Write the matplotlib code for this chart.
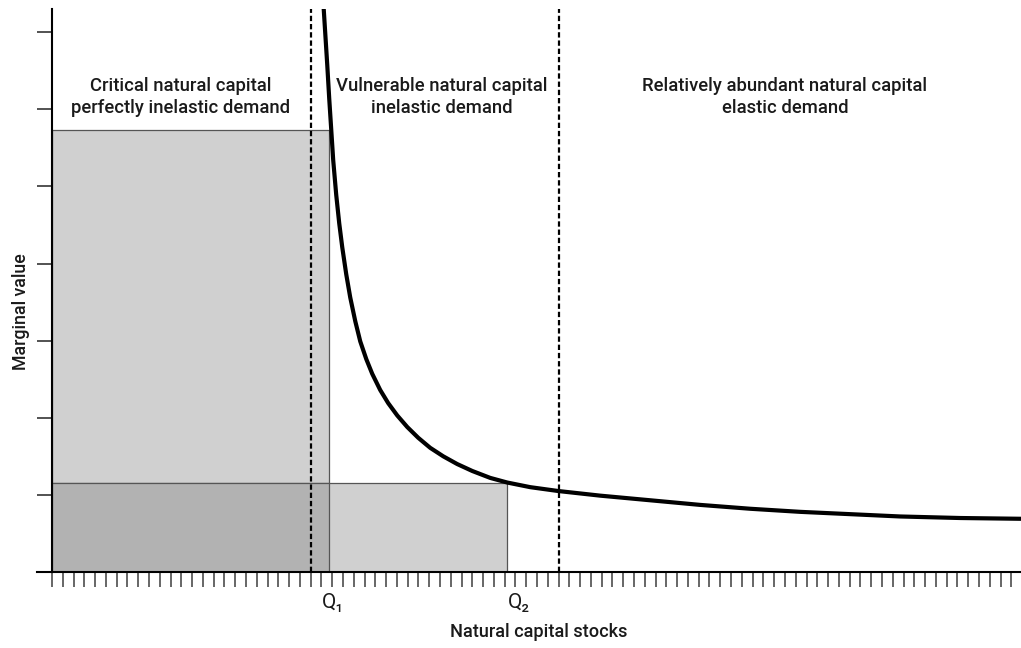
import numpy as np
import matplotlib.pyplot as plt
from matplotlib.patches import Rectangle

plt.rcParams['font.family'] = ['Roboto', 'DejaVu Sans']

# demand curve (x in stock ticks, y in value ticks)
curve_x = [25.21, 25.35, 25.54, 25.72, 25.91, 26.09, 26.37, 26.65, 26.93, 27.30,
           27.67, 28.14, 28.60, 29.16, 29.71, 30.45, 31.19, 32.03, 32.96, 33.98,
           35.09, 36.30, 37.59, 38.99, 40.66, 42.24, 44.37, 46.97, 50.86, 55.50,
           60.14, 64.78, 69.41, 74.05, 78.69, 84.26, 89.92]
curve_y = [7.30, 6.99, 6.57, 6.14, 5.73, 5.34, 4.89, 4.52, 4.21, 3.86,
           3.56, 3.25, 2.99, 2.76, 2.57, 2.36, 2.19, 2.03, 1.88, 1.74,
           1.61, 1.50, 1.40, 1.31, 1.22, 1.16, 1.10, 1.05, 0.99, 0.93,
           0.87, 0.82, 0.78, 0.75, 0.72, 0.70, 0.69]

q1, q2 = 25.7, 42.2          # stock levels
v1, v2 = 5.73, 1.16          # marginal values at Q1 and Q2
thresholds = [24, 47]        # dashed boundaries between regions

regions = ["Critical natural capital\nperfectly inelastic demand",
           "Vulnerable natural capital\ninelastic demand",
           "Relatively abundant natural capital\nelastic demand"]
region_x = [11.97, 36.2, 68.0]
region_y = 6.16

light = '#d0d0d0'
dark = '#b2b2b2'
edge = '#555555'
ink = '#1a1a1a'

fig = plt.figure(figsize=(10.21, 6.48), dpi=100)
ax = fig.add_axes([37 / 1021, 76 / 648, 984 / 1021, 563 / 648])

# shaded areas
ax.add_patch(Rectangle((0, 0), q1, v1, facecolor=light, edgecolor=edge, lw=0.9, zorder=1))
ax.add_patch(Rectangle((0, 0), q2, v2, facecolor=light, edgecolor=edge, lw=0.9, zorder=1))
ax.add_patch(Rectangle((0, 0), q1, v2, facecolor=dark, edgecolor=edge, lw=0.9, zorder=1.5))

for t in thresholds:
    ax.axvline(t, color='black', lw=1.6, dashes=(2.4, 1.3), zorder=3)

ax.plot(curve_x, curve_y, color='black', lw=3.0, solid_joinstyle='round',
        solid_capstyle='round', zorder=4)

for txt, x in zip(regions, region_x):
    ax.text(x, region_y, txt, ha='center', va='center', fontsize=13.3,
            fontweight='medium', color=ink, linespacing=1.25)

ax.text(26.1, -0.40, 'Q\u2081', ha='center', va='center', fontsize=15, color=ink,
        clip_on=False)
ax.text(43.3, -0.40, 'Q\u2082', ha='center', va='center', fontsize=15, color=ink,
        clip_on=False)

ax.set_xlim(-1.39, 89.9)
ax.set_ylim(0, 7.30)

ax.spines['top'].set_visible(False)
ax.spines['right'].set_visible(False)
ax.spines['left'].set_position(('data', 0))
ax.spines['left'].set_linewidth(1.5)
ax.spines['bottom'].set_linewidth(1.5)
ax.spines['left'].set_zorder(5)
ax.spines['bottom'].set_zorder(5)

ax.set_xticks(np.arange(0, 90))
ax.set_yticks(np.arange(0, 8))
ax.tick_params(axis='x', direction='out', length=10.5, width=1.4, color='#666666',
               labelbottom=False)
ax.tick_params(axis='y', direction='out', length=10.8, width=1.3, color='#444444',
               labelleft=False)

ax.set_xlabel('Natural capital stocks', fontsize=13.1, fontweight='medium', color=ink,
              va='center')
ax.xaxis.set_label_coords(0.510, -0.1066)
ax.set_ylabel('Marginal value', fontsize=12.8, fontweight='medium', color=ink,
              va='center')
ax.yaxis.set_label_coords(-0.016, 0.462)

plt.savefig('out.png', dpi=100)
